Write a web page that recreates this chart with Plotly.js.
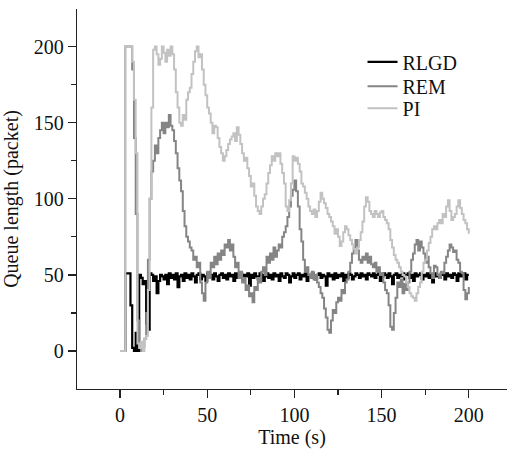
<!DOCTYPE html>
<html>
<head>
<meta charset="utf-8">
<script src="https://cdn.plot.ly/plotly-3.0.1.min.js"></script>
<style>
html,body{margin:0;padding:0;background:#fff;font-family:'Liberation Serif',serif;}
#chart{width:507px;height:450px;}
#chart svg text{font-family:'Liberation Serif',serif !important;}
</style>
</head>
<body>
<div id="chart"></div>
<script>
// Samples every 1 s from t = 0 to t = 200
const seriesNames = ["RLGD", "REM", "PI"];
const rlgd = [
  0,0,0,51,51,51,30,2,0,12,
  0,50,48,44,46,18,14,51,50,46,
  49,38,46,50,49,47,50,44,51,48,
  50,47,51,42,49,50,46,51,48,50,
  47,51,49,45,50,51,47,50,49,46,
  51,48,50,47,51,49,46,50,51,48,
  50,47,51,49,50,46,51,48,50,51,
  47,50,49,51,43,50,48,51,49,47,
  51,50,46,49,51,48,50,47,51,49,
  50,46,51,49,48,51,50,45,49,51,
  48,50,51,47,50,49,51,46,50,48,
  51,49,47,50,51,48,50,49,43,51,
  49,50,47,51,48,50,49,51,46,50,
  48,51,50,47,49,51,50,48,51,49,
  50,47,51,50,49,51,48,50,51,46,
  49,51,50,48,51,49,44,50,51,48,
  50,49,51,47,50,51,48,50,46,51,
  49,50,51,47,50,49,51,48,50,45,
  51,49,50,48,51,50,47,51,49,50,
  48,51,50,46,51,49,50,51,47,50,
  50
];
const rem = [
  0,0,0,200,200,200,200,185,140,90,
  20,2,0,3,8,25,60,100,118,125,
  135,130,140,145,150,143,150,147,155,148,
  145,138,130,120,112,105,92,82,75,72,
  68,66,60,62,55,58,45,38,33,45,
  52,48,58,55,62,57,64,60,66,63,
  70,68,73,66,70,62,55,58,48,52,
  45,48,40,43,36,38,32,42,40,48,
  45,52,55,50,62,58,64,60,68,62,
  66,70,68,75,78,82,88,95,102,106,
  112,105,95,80,72,60,52,55,50,48,
  52,47,50,45,42,38,35,28,22,14,
  12,20,27,25,32,35,33,40,38,45,
  47,52,58,64,68,73,66,60,58,62,
  60,64,58,62,57,55,58,52,55,50,
  51,45,40,38,30,16,14,25,35,45,
  42,47,38,44,40,45,52,60,64,70,
  73,66,72,68,64,58,62,55,51,48,
  56,55,50,48,52,51,58,62,66,70,
  68,65,66,60,58,52,51,40,34,38,
  42
];
const pi = [
  0,0,0,200,200,200,200,190,165,130,
  5,2,6,0,8,10,40,100,160,198,
  200,195,188,192,200,196,190,198,194,200,
  195,185,170,160,150,148,155,152,165,170,
  173,182,190,197,200,193,195,185,175,168,
  160,156,150,143,148,147,140,134,130,125,
  128,132,136,139,141,143,138,147,142,136,
  130,125,127,120,115,108,110,102,95,92,
  90,95,100,103,110,117,122,128,125,130,
  128,130,123,117,110,95,92,99,110,128,
  125,127,123,118,110,108,104,100,95,92,
  90,93,88,92,98,104,100,97,94,90,
  88,85,82,77,80,75,69,72,78,82,
  80,76,73,70,67,64,68,73,78,85,
  95,101,98,92,90,88,92,90,88,91,
  92,88,86,84,80,73,68,63,60,58,
  55,52,50,49,45,42,38,36,35,33,
  38,42,45,52,58,60,66,71,75,80,
  82,80,84,86,84,90,88,95,99,92,
  86,88,90,95,99,94,90,86,84,80,
  77
];
const xTickVals = [0, 50, 100, 150, 200];
const yTickVals = [0, 50, 100, 150, 200];

const FONT = "Liberation Serif";
const colors = ["#000000", "#858585", "#c2c2c2"];
const widths = [2.2, 2.0, 2.0];
const legendIds = ["legend", "legend2", "legend3"];
const legendY = [0.861, 0.797, 0.739];
const allY = [rlgd, rem, pi];

const traces = allY.map((ys, i) => ({
  type: "scatter",
  mode: "lines",
  name: seriesNames[i],
  legend: legendIds[i],
  x0: 0,
  dx: 1,
  y: ys,
  line: {color: colors[i], width: widths[i], shape: "hv"},
  hoverinfo: "skip"
}));

const axisCommon = {
  showline: true,
  linecolor: "#222",
  linewidth: 1.3,
  ticks: "outside",
  ticklen: 8,
  tickwidth: 1.3,
  tickcolor: "#222",
  showgrid: false,
  zeroline: false,
  tickfont: {family: FONT, size: 20, color: "#111"},
  minor: {dtick: 25, ticks: "outside", ticklen: 5, tickwidth: 1.3, tickcolor: "#222", showgrid: false}
};

const layout = {
  width: 507,
  height: 450,
  margin: {l: 77, r: 0, t: 9, b: 61},
  paper_bgcolor: "#fff",
  plot_bgcolor: "#fff",
  font: {family: FONT, size: 20, color: "#111"},
  showlegend: true,
  xaxis: Object.assign({}, axisCommon, {
    range: [-24.66, 221.9],
    tickvals: xTickVals,
    ticktext: xTickVals.map(String),
    title: {text: "Time (s)", font: {family: FONT, size: 20, color: "#111"}, standoff: 4}
  }),
  yaxis: Object.assign({}, axisCommon, {
    range: [-24.97, 224.7],
    tickvals: yTickVals,
    ticktext: yTickVals.map(String),
    title: {text: "Queue length (packet)", font: {family: FONT, size: 20, color: "#111"}, standoff: 10}
  })
};
legendIds.forEach((id, i) => {
  layout[id] = {
    x: 0.664, y: legendY[i], xanchor: "left", yanchor: "middle",
    bgcolor: "rgba(0,0,0,0)",
    font: {family: FONT, size: 20, color: "#111"}
  };
});

Plotly.newPlot("chart", traces, layout, {displayModeBar: false, staticPlot: true});
</script>
</body>
</html>
